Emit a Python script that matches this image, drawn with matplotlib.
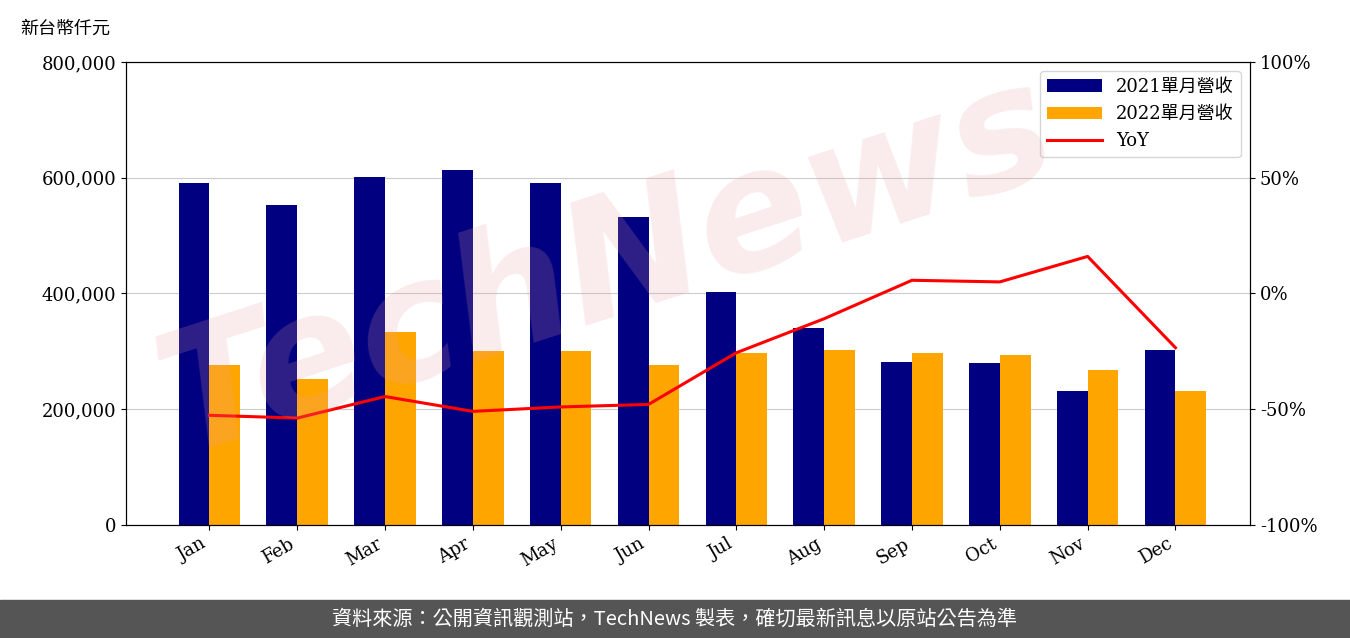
import matplotlib
matplotlib.use("Agg")
import matplotlib.pyplot as plt
import numpy as np
from matplotlib.ticker import FuncFormatter

months = ["Jan", "Feb", "Mar", "Apr", "May", "Jun", "Jul", "Aug", "Sep", "Oct", "Nov", "Dec"]
rev_2021 = [590000, 552000, 602000, 614000, 590000, 532000, 403000, 340000, 282000, 280000, 232000, 303000]
rev_2022 = [276000, 252000, 334000, 301000, 301000, 276000, 298000, 303000, 298000, 294000, 268000, 232000]
yoy = [-52.6, -53.8, -44.5, -50.9, -49.0, -47.9, -25.6, -10.9, 5.7, 5.0, 16.0, -23.4]

serif = ["DejaVu Serif", "Noto Sans CJK TC"]
cjk = ["Noto Sans CJK TC", "DejaVu Sans"]

fig = plt.figure(figsize=(13.5, 6.38), dpi=100)
ax = fig.add_axes([0.0933, 0.177, 0.8327, 0.726])
x = np.arange(len(months))
w = 0.35
b1 = ax.bar(x - w / 2, rev_2021, w, color="#000080", label="2021單月營收", zorder=2)
b2 = ax.bar(x + w / 2, rev_2022, w, color="#FFA500", label="2022單月營收", zorder=2)
ax.set_ylim(0, 800000)
ax.set_xlim(-0.95, 11.85)
ax.set_yticks(range(0, 800001, 200000))
ax.yaxis.set_major_formatter(FuncFormatter(lambda v, p: f"{int(v):,}"))
ax.grid(axis="y", color="#cccccc", zorder=0)
ax.set_xticks(x)
ax.set_xticklabels(months, rotation=30, ha="right", family=serif, fontsize=13)
for t in ax.get_yticklabels():
    t.set_family(serif); t.set_fontsize(13)

ax2 = ax.twinx()
ln, = ax2.plot(x, yoy, color="red", lw=2.2, label="YoY", zorder=3)
ax2.set_ylim(-100, 100)
ax2.set_yticks(range(-100, 101, 50))
ax2.yaxis.set_major_formatter(FuncFormatter(lambda v, p: f"{int(v)}%"))
for t in ax2.get_yticklabels():
    t.set_family(serif); t.set_fontsize(13)

ax2.legend([b1, b2, ln], ["2021單月營收", "2022單月營收", "YoY"], loc="upper right",
           prop={"family": serif, "size": 13}, handlelength=3)

fig.text(0.015, 0.955, "新台幣仟元", family=cjk, fontsize=13, va="center")
fig.text(0.45, 0.58, "TechNews", fontsize=120, color="#e8a0a0", alpha=0.2,
         rotation=18, ha="center", va="center", style="italic", weight="bold", zorder=0)

fig.patches.append(matplotlib.patches.Rectangle((0, 0), 1, 38 / 638, transform=fig.transFigure,
                                                color="#555555", zorder=0))
fig.text(0.5, 19 / 638, "資料來源：公開資訊觀測站，TechNews 製表，確切最新訊息以原站公告為準",
         family=cjk, color="white", fontsize=14.5, ha="center", va="center")

fig.savefig("out.png", dpi=100)
